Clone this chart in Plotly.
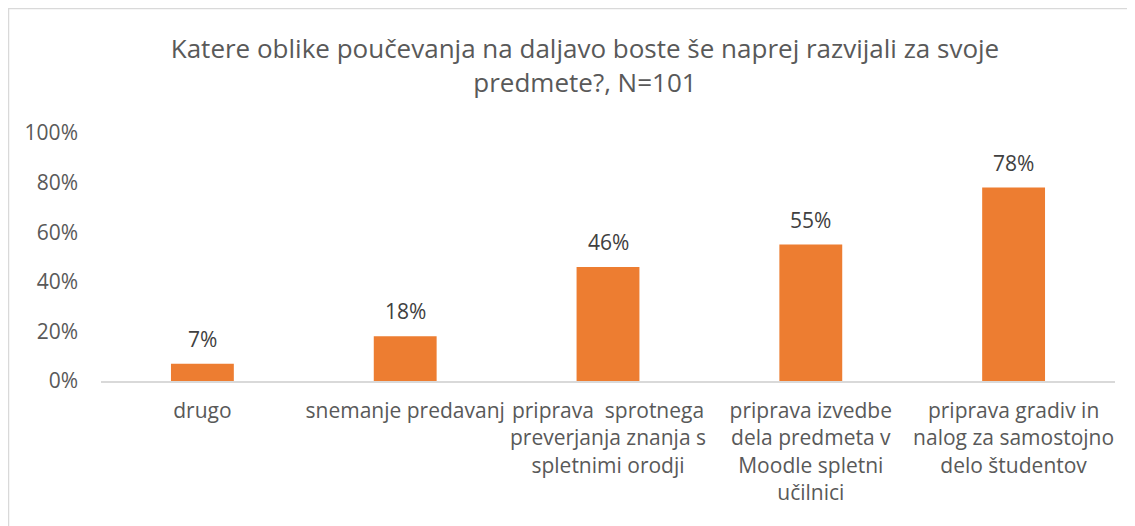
import plotly.graph_objects as go

categories = [
    "drugo",
    "snemanje predavanj",
    "priprava  sprotnega<br>preverjanja znanja s<br>spletnimi orodji",
    "priprava izvedbe<br>dela predmeta v<br>Moodle spletni<br>učilnici",
    "priprava gradiv in<br>nalog za samostojno<br>delo študentov",
]
values = [0.07, 0.18, 0.46, 0.55, 0.78]
y_ticks = [0, 0.2, 0.4, 0.6, 0.8, 1.0]
title_text = "Katere oblike poučevanja na daljavo boste še naprej razvijali za svoje<br>predmete?, N=101"

FONT = "Open Sans"
OFF = 8  # page body margin
W, H = 1135, 526
L, R, T, B = 101 - OFF, 28, 133 - OFF, 526 - (381 - OFF)
pw = W - L - R
ph = H - T - B

fig = go.Figure()
fig.add_trace(go.Bar(
    x=categories, y=values,
    marker=dict(color="#ED7D31", line=dict(width=0)),
    cliponaxis=False, hoverinfo="skip",
))

for c, v in zip(categories, values):
    fig.add_annotation(x=c, y=v, text=f"{v:.0%}", showarrow=False,
                       yanchor="middle", yshift=25,
                       font=dict(family=FONT, size=21, color="#404040"))

fig.update_layout(
    width=W, height=H,
    margin=dict(l=L, r=R, t=T, b=B),
    plot_bgcolor="white", paper_bgcolor="white",
    bargap=0.69,
    showlegend=False,
    title=dict(text=title_text, x=(585 - OFF) / W, xanchor="center",
               y=1 - (58 - OFF) / H, yanchor="middle", yref="container",
               font=dict(family=FONT, size=26, color="#595959")),
    font=dict(family=FONT, color="#595959"),
    xaxis=dict(showline=True, linecolor="#D9D9D9", linewidth=1.5, ticks="",
               ticklabelstandoff=10,
               tickfont=dict(family=FONT, size=21, color="#595959"), showgrid=False),
    yaxis=dict(range=[0, 1], tickvals=y_ticks, tickformat=".0%", showgrid=False,
               zeroline=False, showline=False, ticks="", ticklabelstandoff=22,
               tickfont=dict(family=FONT, size=21, color="#595959")),
)

fig.add_shape(type="path", xref="paper", yref="paper",
              path=f"M {(0.5 - L) / pw} {-(H - T + 20) / ph + 1} L {(0.5 - L) / pw} {1 + (T - 0.5) / ph} L {(W + 20 - L) / pw} {1 + (T - 0.5) / ph}",
              line=dict(color="#D9D9D9", width=1.5))

fig.write_html("out.html")
